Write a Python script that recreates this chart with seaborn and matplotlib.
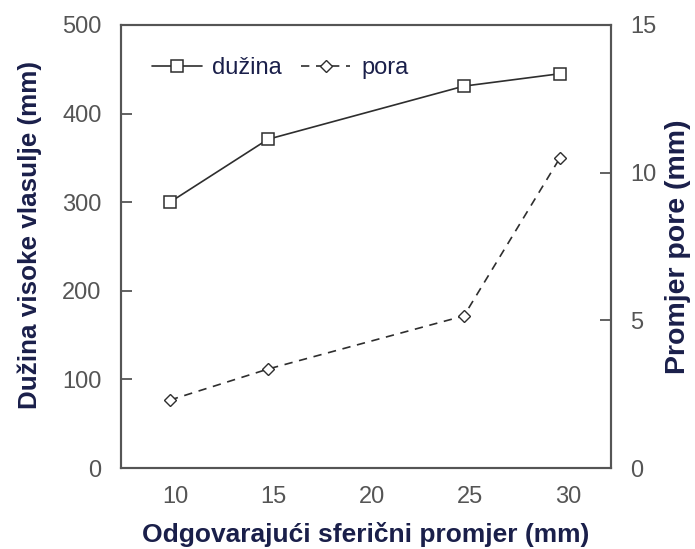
import numpy as np
import pandas as pd
import matplotlib
matplotlib.use('Agg')
import matplotlib.pyplot as plt
import seaborn as sns

# podaci očitani sa slike
promjer = [9.7, 14.7, 24.7, 29.6]
duzina = [300, 371, 431, 445]
pora = [2.3, 3.35, 5.15, 10.5]

sns.set_style("white")
plt.rcParams['font.family'] = ['Liberation Sans', 'DejaVu Sans']

label_color = '#1a1f4a'
tick_color = '#555555'
line_color = '#2e2e2e'

df_d = pd.DataFrame({'x': promjer, 'y': duzina})
df_p = pd.DataFrame({'x': promjer, 'y': pora})

fig = plt.figure(figsize=(6.95, 5.49), dpi=100)
ax = fig.add_axes([0.174, 0.1475, 0.705, 0.807])
ax2 = ax.twinx()

sns.lineplot(data=df_d, x='x', y='y', ax=ax, color=line_color, linewidth=1.2,
             marker='s', markersize=8, markerfacecolor='white',
             markeredgecolor=line_color, markeredgewidth=1.1, label='dužina', legend=False)
sns.lineplot(data=df_p, x='x', y='y', ax=ax2, color=line_color, linewidth=1.2,
             linestyle=(0, (5, 4)), marker='D', markersize=6.5, markerfacecolor='white',
             markeredgecolor=line_color, markeredgewidth=1.0, label='pora', legend=False)

ax.set_xlim(7.2, 32.2)
ax.set_ylim(0, 500)
ax2.set_ylim(0, 15)
ax.set_xticks([10, 15, 20, 25, 30])
ax.set_yticks([0, 100, 200, 300, 400, 500])
ax2.set_yticks([0, 5, 10, 15])

for a in (ax, ax2):
    for s in a.spines.values():
        s.set_color('#555555')
        s.set_linewidth(1.5)
    a.tick_params(direction='in', length=8, width=1.3, color='#555555',
                  labelsize=17, labelcolor=tick_color)
ax.tick_params(axis='x', pad=13)
ax.tick_params(axis='y', pad=14)
ax2.tick_params(axis='y', pad=14)

ax.set_xlabel('Odgovarajući sferični promjer (mm)', fontsize=19, fontweight='bold',
              color=label_color, labelpad=10)
ax.set_ylabel('Dužina visoke vlasulje (mm)', fontsize=18.7, fontweight='bold',
              color=label_color)
ax.yaxis.set_label_coords(-0.162, 0.526)
ax2.set_ylabel('Promjer pore (mm)', fontsize=20.5, fontweight='bold',
               color=label_color, labelpad=6)

h1, l1 = ax.get_legend_handles_labels()
h2, l2 = ax2.get_legend_handles_labels()
ax.legend(h1 + h2, l1 + l2, loc='upper left', bbox_to_anchor=(0.025, 0.97), ncol=2,
          frameon=False, fontsize=17, handlelength=2.1, handletextpad=0.45,
          columnspacing=0.8, borderpad=0.3, labelcolor=label_color)

plt.savefig('out.png', dpi=100)
